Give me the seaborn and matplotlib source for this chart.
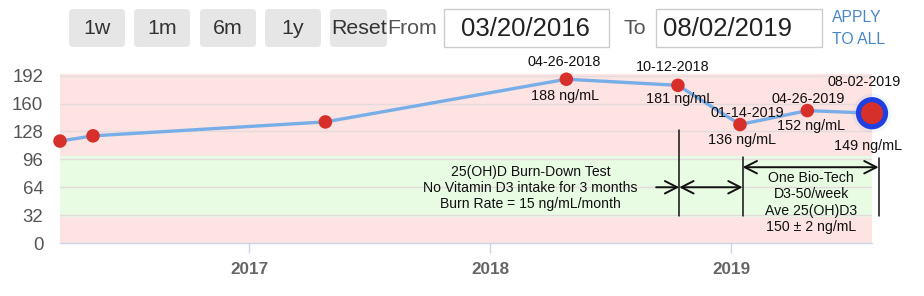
import matplotlib
matplotlib.use("Agg")
import matplotlib.pyplot as plt
import matplotlib.dates as mdates
from matplotlib.patches import FancyBboxPatch, Rectangle
import pandas as pd
import seaborn as sns

sns.set_theme(style="white")
plt.rcParams["font.family"] = ["Liberation Sans", "DejaVu Sans"]

# ---- data -------------------------------------------------------------
test_dates = ["2016-03-20", "2016-05-09", "2017-04-26", "2018-04-26",
              "2018-10-12", "2019-01-14", "2019-04-26", "2019-08-02"]
levels = [117, 123, 139, 188, 181, 136, 152, 149]
date_labels = ["", "", "", "04-26-2018", "10-12-2018",
               "01-14-2019", "04-26-2019", "08-02-2019"]
y_ticks = [0, 32, 64, 96, 128, 160, 192]
year_ticks = ["2017-01-01", "2018-01-01", "2019-01-01"]
range_start, range_end = "03/20/2016", "08/02/2019"
buttons = ["1w", "1m", "6m", "1y", "Reset"]
normal_low, normal_high = 30, 100
burn_start, burn_end, supp_end = "2018-10-14", "2019-01-18", "2019-08-12"
burn_text = ("25(OH)D Burn-Down Test\nNo Vitamin D3 intake for 3 months\n"
             "Burn Rate = 15 ng/mL/month")
supp_text = "One Bio-Tech\nD3-50/week\nAve 25(OH)D3\n150 \u00b1 2 ng/mL"

df = pd.DataFrame({"date": pd.to_datetime(test_dates), "level": levels})

# ---- layout -----------------------------------------------------------
W, H = 924, 296
fig = plt.figure(figsize=(W / 100, H / 100), dpi=100)
fig.patch.set_facecolor("white")
ax = fig.add_axes([60 / W, 1 - 243 / H, (872 - 60) / W, (243 - 74) / H])
ax.set_facecolor("white")

# reference bands
ax.axhspan(0, normal_low, color="#fde3e1", zorder=0, lw=0)
ax.axhspan(normal_low, normal_high, color="#e8fbe3", zorder=0, lw=0)
ax.axhspan(normal_high, 200, color="#fde3e1", zorder=0, lw=0)
for v in y_ticks[1:]:
    ax.axhline(v, color="#e4dcdc", lw=1, zorder=0.5)

# series
line_color = "#78aee8"
dot_color = "#d7302a"
sns.lineplot(data=df, x="date", y="level", ax=ax, color=line_color,
             lw=2.4, zorder=3)
sns.scatterplot(data=df.iloc[:-1], x="date", y="level", ax=ax, color=dot_color,
                s=95, edgecolor="none", zorder=4, clip_on=False)
last = df.iloc[[-1]]
sns.scatterplot(data=last, x="date", y="level", ax=ax, color="#7cb5ec",
                s=800, alpha=0.12, edgecolor="none", zorder=4, clip_on=False)
sns.scatterplot(data=last, x="date", y="level", ax=ax, color="#1f3fe0",
                s=540, edgecolor="none", zorder=5, clip_on=False)
sns.scatterplot(data=last, x="date", y="level", ax=ax, color=dot_color,
                s=250, edgecolor="none", zorder=6, clip_on=False)

# point labels: (date dx, dy), (value dx, dy) in pixels
label_offsets = {3: ((-2, 17), (-1, -17)),
                 4: ((-5, 18), (2, -14)),
                 5: ((7, 12), (2, -15)),
                 6: ((1, 12), (4, -15)),
                 7: ((-8, 31), (-4, -33))}
for i, (d_off, v_off) in label_offsets.items():
    x, y = df["date"].iloc[i], df["level"].iloc[i]
    ax.annotate(date_labels[i], (x, y), xytext=d_off, textcoords="offset pixels",
                ha="center", va="center", fontsize=10.4, color="#111", zorder=7,
                annotation_clip=False)
    ax.annotate(f"{levels[i]} ng/mL", (x, y), xytext=v_off,
                textcoords="offset pixels", ha="center", va="center",
                fontsize=10.4, color="#111", zorder=7, annotation_clip=False)

# burn-down / supplementation annotations
bs, be, se = pd.to_datetime([burn_start, burn_end, supp_end])
ax.plot([bs, bs], [31, 130], color="#111", lw=1.1, zorder=6)
ax.plot([be, be], [31, 99], color="#111", lw=1.1, zorder=6)
ax.plot([se, se], [31, 98], color="#111", lw=1.1, zorder=6, clip_on=False)
arrow = dict(arrowstyle="->,head_length=0.55,head_width=0.28", color="#111",
             lw=1.4, shrinkA=0, shrinkB=0, mutation_scale=16)
ax.annotate("", xy=(bs, 64), xytext=(bs - pd.Timedelta(days=35), 64),
            arrowprops=arrow)
ax.annotate("", xy=(be, 64), xytext=(bs, 64),
            arrowprops=dict(arrow, arrowstyle="<->,head_length=0.55,head_width=0.28"))
ax.annotate("", xy=(se, 87), xytext=(be, 87),
            arrowprops=dict(arrow, arrowstyle="<->,head_length=0.55,head_width=0.28"),
            annotation_clip=False)
ax.text(pd.Timestamp("2018-03-03"), 63, burn_text, ha="center", va="center",
        fontsize=10.1, color="#111", linespacing=1.17, zorder=7)
ax.text(pd.Timestamp("2019-05-02"), 46.5, supp_text, ha="center", va="center",
        fontsize=10.2, color="#111", linespacing=1.2, zorder=7)

# axes styling
ax.set_xlim(pd.Timestamp(test_dates[0]), pd.Timestamp(test_dates[-1]))
ax.set_ylim(0, 194)
ax.set_yticks(y_ticks)
ax.set_yticklabels([str(v) for v in y_ticks], fontsize=13.4, color="#555")
ax.set_xticks(pd.to_datetime(year_ticks))
ax.xaxis.set_major_formatter(mdates.DateFormatter("%Y"))
for lab in ax.get_xticklabels():
    lab.set_fontweight("bold")
ax.tick_params(axis="x", length=7.5, width=1, color="#ccd6eb", pad=6,
               labelsize=12.3, labelcolor="#666", direction="out", bottom=True)
ax.tick_params(axis="y", length=0, pad=12)
ax.set_xlabel("")
ax.set_ylabel("")
for s in ["top", "right", "left"]:
    ax.spines[s].set_visible(False)
ax.spines["bottom"].set_color("#ccd6eb")
ax.spines["bottom"].set_linewidth(1)
ax.grid(False)

# ---- range selector toolbar --------------------------------------------
ov = fig.add_axes([0, 0, 1, 1], zorder=-1)
ov.set_xlim(0, W)
ov.set_ylim(H, 0)
ov.axis("off")
ov.patch.set_visible(False)
btn_boxes = [(69, 125), (134, 190), (200, 256), (265, 321), (330, 387)]
for label, (x0, x1) in zip(buttons, btn_boxes):
    ov.add_patch(FancyBboxPatch((x0, 9), x1 - x0, 38,
                                boxstyle="round,pad=0,rounding_size=4",
                                fc="#e6e6e6", ec="none"))
    if label == "Reset":
        ov.text(331, 28.5, label, ha="left", va="center", fontsize=15.4,
                color="#333")
    else:
        ov.text((x0 + x1) / 2, 28.5, label, ha="center", va="center",
                fontsize=15.4, color="#333")
ov.text(387, 28.5, "From", ha="left", va="center", fontsize=15.4, color="#555")
ov.add_patch(Rectangle((444, 9), 165, 38, fc="white", ec="#cccccc", lw=1))
ov.text(461, 28.5, range_start, ha="left", va="center", fontsize=18.5,
        color="#222")
ov.text(624, 28.5, "To", ha="left", va="center", fontsize=15.4, color="#555")
ov.add_patch(Rectangle((656, 9), 166, 38, fc="white", ec="#cccccc", lw=1))
ov.text(663, 28.5, range_end, ha="left", va="center", fontsize=18.5,
        color="#222")
ov.text(832, 17, "APPLY", ha="left", va="center", fontsize=11.3,
        color="#4a86c5")
ov.text(832, 39, "TO ALL", ha="left", va="center", fontsize=11.3,
        color="#4a86c5")

fig.savefig("out.png", dpi=100)
